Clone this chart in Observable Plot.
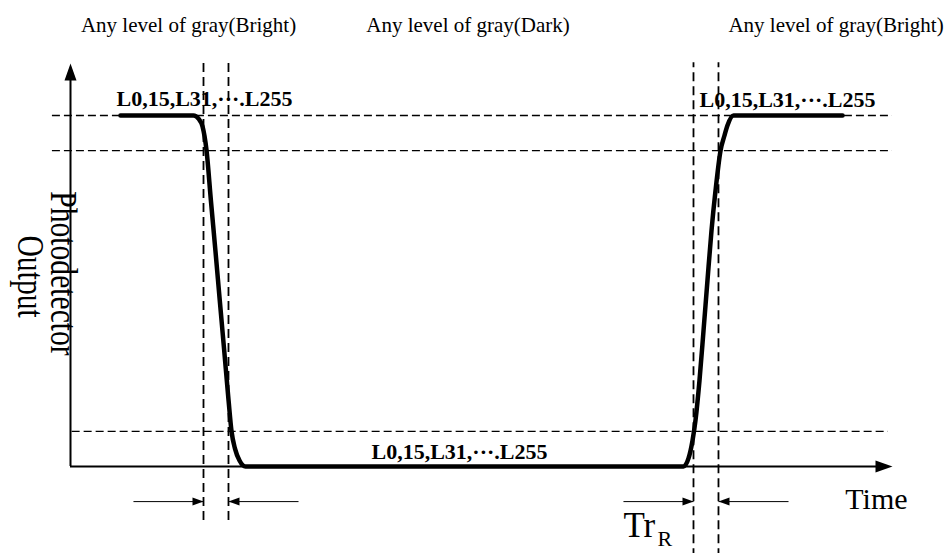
<!DOCTYPE html>
<html>
<head>
<meta charset="utf-8">
<script src="https://cdn.jsdelivr.net/npm/d3@7"></script>
<script src="https://cdn.jsdelivr.net/npm/@observablehq/plot@0.6"></script>
<style>
  html, body { margin: 0; padding: 0; background: #fff; overflow: hidden; }
</style>
</head>
<body>
<div id="chart"></div>
<script>
// ---- Data (time in arbitrary units 0..100, photodetector output normalised 0..1) ----
const timeFall = [6.08, 14.96, 15.57, 16.06, 16.55, 17.08, 17.63, 18.16, 18.70, 19.23, 19.59, 20.01, 20.56, 21.29];
const outFall  = [1.0, 1.0, 0.991, 0.969, 0.900, 0.758, 0.615, 0.473, 0.330, 0.188, 0.100, 0.051, 0.017, 0.0];
const timeRise = [74.57, 75.18, 75.67, 76.03, 76.52, 77.01, 77.49, 77.98, 78.47, 79.08, 79.56, 79.93, 80.66, 93.92];
const outRise  = [0.0, 0.023, 0.074, 0.131, 0.245, 0.387, 0.530, 0.672, 0.786, 0.900, 0.943, 0.972, 1.0, 1.0];

// reference levels (100 %, 90 %, 10 %)
const levelValues = [1.0, 0.9, 0.1];
const levelStart  = [-2.2, -2.2, 0.2];
const levelEnd    = [100, 100, 99.5];

// transition markers (10 % / 90 % crossings)
const edgeTimes  = [16.18, 19.22, 75.79, 78.83];
const edgeTop    = [1.157, 1.157, 1.15, 1.15];
const edgeBottom = [-0.154, -0.154, -0.26, -0.26];

// dimension arrows
const arrowFrom  = [7.66, 27.74, 67.27, 87.35];
const arrowTo    = [16.18, 19.22, 75.79, 78.83];
const arrowLevel = -0.1;

// labels
const regionLabels = ["Any level of gray(Bright)", "Any level of gray(Dark)", "Any level of gray(Bright)"];
const regionTimes  = [14.36, 48.36, 93.13];
const regionLevel  = 1.239;

const grayLabels = ["L0,15,L31,\u00B7\u00B7\u00B7.L255", "L0,15,L31,\u00B7\u00B7\u00B7.L255", "L0,15,L31,\u00B7\u00B7\u00B7.L255"];
const grayTimes  = [16.30, 87.23, 47.32];
const grayLevels = [1.028, 1.023, 0.02];

const axisTitleY = ["Photodetector", "Output"];
const axisTitleYTime  = [-2.43, -6.33];
const axisTitleYLevel = [0.55, 0.541];

const axisTitleX = "Time";
const riseLabel = "Tr";
const riseSub = "R";

const yAxisTip = 1.148;
const xAxisTip = 100;

// ---- Build tables ----
const curve = [...timeFall.map((t, i) => ({t, v: outFall[i]})), ...timeRise.map((t, i) => ({t, v: outRise[i]}))];
const levels = levelValues.map((v, i) => ({v, x1: levelStart[i], x2: levelEnd[i]}));
const edges = edgeTimes.map((t, i) => ({t, y1: edgeBottom[i], y2: edgeTop[i]}));
const dims = arrowFrom.map((f, i) => ({x1: f, x2: arrowTo[i], y: arrowLevel, rot: arrowTo[i] > f ? 90 : 270}));
const regions = regionLabels.map((s, i) => ({s, t: regionTimes[i], v: regionLevel}));
const grays = grayLabels.map((s, i) => ({s, t: grayTimes[i], v: grayLevels[i]}));
const ytitles = axisTitleY.map((s, i) => ({s, t: axisTitleYTime[i], v: axisTitleYLevel[i]}));

const serif = "'Liberation Serif', 'Times New Roman', serif";

const triangle = {
  draw(context, l, r) {
    context.moveTo(0, -l);
    context.lineTo(-r, 0);
    context.lineTo(r, 0);
    context.closePath();
  }
};

const chart = Plot.plot({
  width: 951,
  height: 553,
  marginLeft: 70,
  marginRight: 59,
  marginTop: 115,
  marginBottom: 87,
  x: {domain: [0, 100], axis: null},
  y: {domain: [0, 1], axis: null},
  style: {fontFamily: serif, background: "#fff", color: "#000", overflow: "visible"},
  marks: [
    // labels
    Plot.text(regions, {x: "t", y: "v", text: "s", fontFamily: serif, fontSize: 21, textAnchor: "middle", lineAnchor: "bottom", fill: "#000"}),
    Plot.text(grays, {x: "t", y: "v", text: "s", fontFamily: serif, fontSize: 22, fontWeight: "bold", textAnchor: "middle", lineAnchor: "bottom", fill: "#000"}),
    Plot.text(ytitles, {x: "t", y: "v", text: "s", fontFamily: serif, fontSize: 37, rotate: 90, textAnchor: "middle", lineAnchor: "bottom", fill: "#000"}),
    Plot.text([axisTitleX], {x: 98.05, y: -0.1225, text: d => d, fontFamily: serif, fontSize: 30, textAnchor: "middle", lineAnchor: "bottom", fill: "#000"}),
    Plot.text([riseLabel], {x: 67.27, y: -0.2, text: d => d, fontFamily: serif, fontSize: 35, textAnchor: "start", lineAnchor: "bottom", fill: "#000"}),
    Plot.text([riseSub], {x: 71.41, y: -0.226, text: d => d, fontFamily: serif, fontSize: 22, textAnchor: "start", lineAnchor: "bottom", fill: "#000"}),
    // reference levels
    Plot.ruleY(levels, {y: "v", x1: "x1", x2: "x2", stroke: "#000", strokeWidth: 1.4, strokeDasharray: "8,4"}),
    // transition markers
    Plot.ruleX(edges, {x: "t", y1: "y1", y2: "y2", stroke: "#000", strokeWidth: 1.8, strokeDasharray: "9,5"}),
    // axes
    Plot.ruleX([0], {y1: 0, y2: yAxisTip - 0.03, stroke: "#000", strokeWidth: 2}),
    Plot.ruleY([0], {x1: 0, x2: xAxisTip - 1.5, stroke: "#000", strokeWidth: 2}),
    Plot.vector([{t: 0, v: yAxisTip, r: 0}, {t: xAxisTip, v: 0, r: 90}], {x: "t", y: "v", rotate: "r", length: 17, r: 6, anchor: "end", shape: triangle, fill: "#000", stroke: "none"}),
    // dimension arrows
    Plot.link(dims, {x1: "x1", x2: "x2", y1: "y", y2: "y", stroke: "#000", strokeWidth: 1}),
    Plot.vector(dims, {x: "x2", y: "y", rotate: "rot", length: 11, r: 4, anchor: "end", shape: triangle, fill: "#000", stroke: "none"}),
    // response curve
    Plot.line(curve, {x: "t", y: "v", curve: "monotone-x", stroke: "#000", strokeWidth: 4.5, strokeLinecap: "round", strokeLinejoin: "round"})
  ]
});

document.getElementById("chart").appendChild(chart);

// compress the rotated axis title along its reading direction
d3.select(chart).selectAll("text").each(function() {
  if (axisTitleY.includes(this.textContent)) {
    const tr = this.getAttribute("transform") || "";
    this.setAttribute("transform", tr + " scale(0.8,1)");
  }
});
</script>
</body>
</html>
